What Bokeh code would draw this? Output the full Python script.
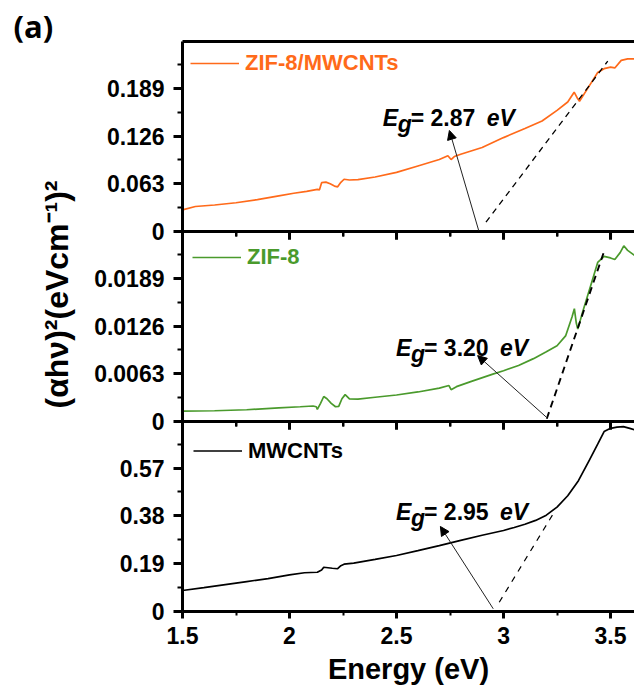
import math
from bokeh.plotting import figure
from bokeh.models import (Range1d, FixedTicker, LinearAxis, Label, Arrow, Title,
                          NormalHead, Legend, LegendItem)
from bokeh.embed import file_html
from bokeh.resources import INLINE

# ---------------- data ----------------
x_ticks = [1.5, 2.0, 2.5, 3.0, 3.5]
x_tick_labels = ["1.5", "2", "2.5", "3", "3.5"]
x_minor = [1.75, 2.25, 2.75, 3.25]

series_names = ["ZIF-8/MWCNTs", "ZIF-8", "MWCNTs"]

top_x = [1.50, 1.56, 1.65, 1.75, 1.85, 1.95, 2.02, 2.08, 2.13, 2.14, 2.15, 2.17,
         2.19, 2.21, 2.225, 2.24, 2.255, 2.28, 2.32, 2.40, 2.50, 2.60, 2.70, 2.74,
         2.755, 2.77, 2.80, 2.90, 3.00, 3.10, 3.18, 3.25, 3.30, 3.33, 3.345, 3.355,
         3.40, 3.44, 3.47, 3.50, 3.52, 3.55, 3.58, 3.614]
top_y = [0.0285, 0.033, 0.035, 0.038, 0.042, 0.047, 0.0505, 0.053, 0.0557, 0.055,
         0.0645, 0.0652, 0.063, 0.060, 0.059, 0.065, 0.069, 0.068, 0.0685, 0.072,
         0.078, 0.0865, 0.095, 0.100, 0.095, 0.099, 0.102, 0.111, 0.124, 0.136,
         0.146, 0.160, 0.171, 0.184, 0.176, 0.172, 0.192, 0.210, 0.215, 0.217,
         0.216, 0.226, 0.228, 0.228]

mid_x = [1.50, 1.65, 1.80, 1.95, 2.05, 2.11, 2.125, 2.13, 2.145, 2.16, 2.175, 2.195,
         2.215, 2.23, 2.245, 2.26, 2.28, 2.32, 2.40, 2.50, 2.60, 2.70, 2.745, 2.755,
         2.78, 2.85, 2.95, 3.00, 3.07, 3.14, 3.20, 3.25, 3.29, 3.32, 3.331, 3.34,
         3.347, 3.37, 3.41, 3.44, 3.47, 3.50, 3.52, 3.545, 3.562, 3.58, 3.614]
mid_y = [0.00136, 0.00142, 0.00155, 0.00180, 0.00195, 0.00205, 0.00195, 0.00160,
         0.00240, 0.00330, 0.00300, 0.00240, 0.00195, 0.00200, 0.00300, 0.00355,
         0.00300, 0.00295, 0.00320, 0.00350, 0.00390, 0.00440, 0.00475, 0.00420,
         0.00460, 0.00530, 0.00625, 0.00670, 0.00740, 0.00830, 0.00920, 0.01000,
         0.01130, 0.01380, 0.01490, 0.01300, 0.01220, 0.01450, 0.01820, 0.02100,
         0.02180, 0.02160, 0.02140, 0.02230, 0.02320, 0.02260, 0.02190]

bot_x = [1.50, 1.60, 1.70, 1.80, 1.90, 2.00, 2.07, 2.13, 2.15, 2.16, 2.20, 2.225,
         2.24, 2.255, 2.30, 2.40, 2.50, 2.60, 2.70, 2.80, 2.90, 3.00, 3.05, 3.10,
         3.15, 3.20, 3.25, 3.30, 3.35, 3.40, 3.44, 3.47, 3.50, 3.53, 3.56, 3.59, 3.614]
bot_y = [0.0835, 0.095, 0.107, 0.119, 0.131, 0.1455, 0.154, 0.156, 0.165, 0.176,
         0.172, 0.170, 0.182, 0.188, 0.192, 0.207, 0.2227, 0.242, 0.262, 0.283,
         0.303, 0.322, 0.334, 0.347, 0.362, 0.383, 0.415, 0.460, 0.520, 0.600,
         0.665, 0.715, 0.728, 0.733, 0.735, 0.728, 0.722]

top_y_ticks = [0, 0.063, 0.126, 0.189]
top_y_labels = ["0", "0.063", "0.126", "0.189"]
top_y_minor = [0.0315, 0.0945, 0.1575, 0.2205]
mid_y_ticks = [0, 0.0063, 0.0126, 0.0189]
mid_y_labels = ["0", "0.0063", "0.0126", "0.0189"]
mid_y_minor = [0.00315, 0.00945, 0.01575, 0.02205]
bot_y_ticks = [0, 0.19, 0.38, 0.57]
bot_y_labels = ["0", "0.19", "0.38", "0.57"]
bot_y_minor = [0.095, 0.285, 0.475, 0.665]

y_max = [0.2509, 0.02509, 0.7552]
x_max = 3.612

eg_labels = ["2.87", "3.20", "2.95"]
# tangent (dashed) line end points
tan_x = [[2.918, 3.487], [3.202, 3.474], [2.980, 3.237]]
tan_y = [[0.0123, 0.225], [0.00036, 0.0228], [0.037, 0.395]]
# arrows: start (near intercept) -> end (near label)
arrow_start = [(2.884, 0.0013), (3.199, 0.0006), (2.952, 0.0107)]
arrow_end = [(2.747, 0.1334), (2.879, 0.0087), (2.705, 0.338)]
# Eg label anchor (left, baseline)
eg_pos = [(2.4355, 0.1493), (2.4977, 0.00973), (2.4977, 0.3947)]

colors = ["#FF6A1A", "#4A9A2C", "#000000"]

# ---------------- layout ----------------
FONT = "Liberation Sans"
TICK_FS = "23px"
W, H = 634, 692
LEFT, TOP, BOTTOM = 182, 41, 81
FRAME_H = H - TOP - BOTTOM          # 570, three stacked panels of 190 px
PX = 3.0 / FRAME_H                  # one pixel in slot units

names = ["top", "mid", "bot"]
xs_all = [top_x, mid_x, bot_x]
ys_all = [top_y, mid_y, bot_y]
ticks_all = [top_y_ticks, mid_y_ticks, bot_y_ticks]
labels_all = [top_y_labels, mid_y_labels, bot_y_labels]
minor_all = [top_y_minor, mid_y_minor, bot_y_minor]
slot = [2, 1, 0]                     # panel position counted from the bottom

p = figure(width=W, height=H, x_range=Range1d(1.5, x_max), y_range=Range1d(0, 3),
           x_axis_location=None, y_axis_location=None,
           toolbar_location=None, output_backend="svg",
           min_border_left=LEFT, min_border_right=0,
           min_border_top=TOP, min_border_bottom=BOTTOM)
p.outline_line_color = None
p.xgrid.visible = False
p.ygrid.visible = False
p.background_fill_color = "white"
p.border_fill_color = "white"

# each panel has its own y range mapping its data onto its third of the frame
for i, nm in enumerate(names):
    k = slot[i]
    p.extra_y_ranges[nm] = Range1d(-k * y_max[i], (3 - k) * y_max[i])

# one left axis on the panel-slot scale; tick places derived from each panel's ticks
y_major, y_minor_all, y_over = [], [], {}
for i in range(3):
    k = slot[i]
    for t, lab in zip(ticks_all[i], labels_all[i]):
        pos = k + t / y_max[i]
        y_major.append(pos)
        y_over[pos] = lab
    for t in minor_all[i]:
        y_minor_all.append(k + t / y_max[i])

ay = LinearAxis(ticker=FixedTicker(ticks=y_major, minor_ticks=y_minor_all))
ay.major_label_overrides = y_over
ay.axis_line_width = 3
ay.major_tick_line_width = 3
ay.minor_tick_line_width = 2
ay.major_tick_in = 0
ay.major_tick_out = 9
ay.minor_tick_in = 0
ay.minor_tick_out = 5
ay.major_label_text_font = FONT
ay.major_label_text_font_style = "bold"
ay.major_label_text_font_size = TICK_FS
ay.major_label_text_color = "black"
ay.major_label_standoff = 9
p.add_layout(ay, "left")


def style_x(ax, kind):
    ax.axis_line_width = 3
    ax.axis_line_color = "black"
    ax.major_label_overrides = {t: l for t, l in zip(x_ticks, x_tick_labels)}
    if kind == "line":
        ax.major_tick_line_color = None
        ax.minor_tick_line_color = None
        ax.major_tick_in = ax.major_tick_out = 0
        ax.minor_tick_in = ax.minor_tick_out = 0
        ax.major_label_text_font_size = "0px"
        ax.major_label_standoff = 0
    elif kind == "inner":
        ax.major_tick_in = 0
        ax.major_tick_out = 8
        ax.minor_tick_in = 0
        ax.minor_tick_out = 5
        ax.major_tick_line_width = 3
        ax.minor_tick_line_width = 2
        ax.major_label_text_font_size = "0px"
        ax.major_label_standoff = 0
    else:
        ax.major_tick_in = 0
        ax.major_tick_out = 7
        ax.minor_tick_in = 0
        ax.minor_tick_out = 4
        ax.major_tick_line_width = 3
        ax.minor_tick_line_width = 2
        ax.major_label_text_font = FONT
        ax.major_label_text_font_style = "bold"
        ax.major_label_text_font_size = TICK_FS
        ax.major_label_text_color = "black"
        ax.major_label_standoff = 8
        ax.axis_label = "Energy (eV)"
        ax.axis_label_text_font = FONT
        ax.axis_label_text_font_style = "bold"
        ax.axis_label_text_font_size = "29px"
        ax.axis_label_text_color = "black"
        ax.axis_label_standoff = 6


xt = lambda: FixedTicker(ticks=x_ticks, minor_ticks=x_minor)

ax_top = LinearAxis(ticker=xt())
style_x(ax_top, "line")
p.add_layout(ax_top, "above")
for loc in (2, 1):
    ax_b = LinearAxis(ticker=xt(), fixed_location=loc)
    style_x(ax_b, "inner")
    p.add_layout(ax_b, "below")
    # tick marks hanging below each inner panel boundary
    p.segment(x0=x_ticks, y0=[loc] * len(x_ticks), x1=x_ticks,
              y1=[loc - 8 * PX] * len(x_ticks), line_color="black", line_width=3)
    p.segment(x0=x_minor, y0=[loc] * len(x_minor), x1=x_minor,
              y1=[loc - 5 * PX] * len(x_minor), line_color="black", line_width=2)
ax_bottom = LinearAxis(ticker=xt())
style_x(ax_bottom, "full")
p.add_layout(ax_bottom, "below")

legend_y = [FRAME_H - 36, FRAME_H - 190 - 42, FRAME_H - 380 - 48]
legend_x = [8, 10, 11]
legend_h = [28, 32, 37]

for i, nm in enumerate(names):
    r = p.line(xs_all[i], ys_all[i], y_range_name=nm, line_color=colors[i], line_width=1.7)

    dash = ["6 5", "7 5", "6 6"][i]
    lw = [1.3, 1.9, 1.2][i]
    p.line(tan_x[i], tan_y[i], y_range_name=nm, line_color="black",
           line_dash=dash, line_width=lw)

    p.add_layout(Arrow(end=NormalHead(size=9, fill_color="black", line_color="black",
                                      line_width=1),
                       x_start=arrow_start[i][0], y_start=arrow_start[i][1],
                       x_end=arrow_end[i][0], y_end=arrow_end[i][1],
                       y_range_name=nm, line_color="#222222", line_width=1))

    ex, ey = eg_pos[i]
    common = dict(x=ex, y=ey, y_range_name=nm, text_font=FONT, text_font_size="23px",
                  text_color="black", text_baseline="alphabetic")
    p.add_layout(Label(text="E", text_font_style="bold italic", **common))
    p.add_layout(Label(text="g", text_font_style="bold italic", x_offset=15, y_offset=-6, **common))
    p.add_layout(Label(text="= " + eg_labels[i], text_font_style="bold", x_offset=28, **common))
    p.add_layout(Label(text="eV", text_font_style="bold italic", x_offset=104, **common))

    leg = Legend(items=[LegendItem(label=series_names[i], renderers=[r])],
                 location=(legend_x[i], legend_y[i]), border_line_color=None,
                 background_fill_alpha=0,
                 label_text_font=FONT, label_text_font_style="bold",
                 label_text_font_size="22px", label_text_color=colors[i],
                 glyph_width=49, glyph_height=legend_h[i], label_height=legend_h[i],
                 label_standoff=6, padding=0, margin=0, spacing=0)
    p.add_layout(leg)

# y title: starts (bottom end) 203 px above the frame bottom, reading upwards
p.add_layout(Title(text="(\u03b1h\u03bd)\u00b2(eVcm\u207b\u00b9)\u00b2", align="left",
                   offset=203, standoff=34, text_font=FONT, text_font_style="bold",
                   text_font_size="32px", text_color="black"), "left")
p.add_layout(Title(text="(a)", align="left", offset=-169, standoff=-10,
                   text_font="Open Sans", text_font_style="bold", text_font_size="31px",
                   text_color="black"), "above")

open("out.html", "w").write(file_html(p, INLINE))
